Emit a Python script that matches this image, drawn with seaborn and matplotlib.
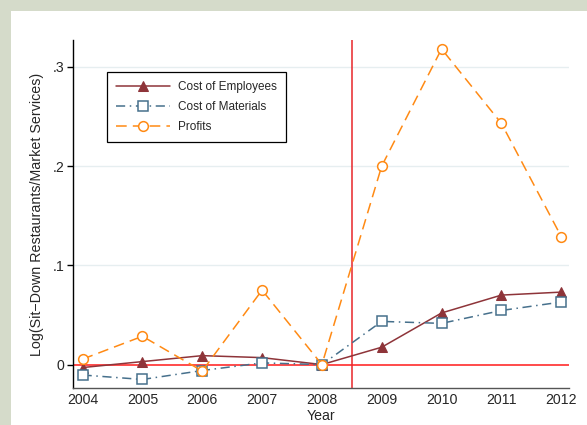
import numpy as np
import pandas as pd
import matplotlib
matplotlib.use("Agg")
import matplotlib.pyplot as plt
from matplotlib.patches import Rectangle
import seaborn as sns

years = [2004, 2005, 2006, 2007, 2008, 2009, 2010, 2011, 2012]
employees = [-0.003, 0.003, 0.009, 0.007, 0.0, 0.0175, 0.052, 0.070, 0.073]
materials = [-0.0105, -0.015, -0.006, 0.0017, 0.0, 0.0435, 0.0415, 0.0545, 0.063]
profits = [0.0055, 0.0285, -0.0065, 0.075, 0.0, 0.200, 0.318, 0.243, 0.129]

ytick_vals = [0, 0.1, 0.2, 0.3]
ytick_labels = ["0", ".1", ".2", ".3"]

sns.set_theme(style="white")
plt.rcParams["font.family"] = ["Liberation Sans", "DejaVu Sans"]

fig = plt.figure(figsize=(5.87, 4.25), dpi=100)
fig.patch.set_facecolor("#D5DBCA")
# white panel behind the plot
fig.add_artist(Rectangle((11 / 587, 0), 1, 1 - 11 / 425, transform=fig.transFigure,
                         facecolor="white", edgecolor="none", zorder=-5))

ax = fig.add_axes([73 / 587, 1 - 388 / 425, 496 / 587, 348 / 425])
ax.set_zorder(2)
ax.set_facecolor("white")

df = pd.DataFrame({"Year": years, "emp": employees, "mat": materials, "prof": profits})

# grid lines
for v in ytick_vals[1:]:
    ax.axhline(v, color="#E6EEF0", lw=1.0, zorder=0)

ax.axhline(0, color="#FF1A1A", lw=1.1, zorder=1)
ax.axvline(2008.5, color="#E8262A", lw=1.1, zorder=1)

sns.lineplot(data=df, x="Year", y="emp", ax=ax, color="#8E3439", lw=1.1,
             marker="^", markersize=7, markerfacecolor="#8E3439",
             markeredgecolor="#8E3439", label="Cost of Employees", zorder=3)
sns.lineplot(data=df, x="Year", y="mat", ax=ax, color="#46708C", lw=1.1,
             marker="s", markersize=6.5, markerfacecolor="white",
             markeredgecolor="#46708C", markeredgewidth=1.1,
             dashes=(6, 3, 1, 3), label="Cost of Materials", zorder=3)
sns.lineplot(data=df, x="Year", y="prof", ax=ax, color="#FF8A14", lw=1.1,
             marker="o", markersize=7, markerfacecolor="white",
             markeredgecolor="#FF8A14", markeredgewidth=1.1,
             dashes=(7, 4), label="Profits", zorder=3)

ax.set_xlim(2003.84, 2012.13)
ax.set_ylim(-0.0236, 0.327)
ax.set_xticks(years)
ax.set_xticklabels([str(y) for y in years], fontsize=10.2)
ax.set_yticks(ytick_vals)
ax.set_yticklabels(ytick_labels, fontsize=10.2)
ax.tick_params(axis="x", length=0, pad=3.5)
ax.tick_params(axis="y", length=4, width=1, color="black", pad=2, left=True)

for s in ["top", "right"]:
    ax.spines[s].set_visible(False)
ax.spines["left"].set_color("black")
ax.spines["left"].set_linewidth(1.0)
ax.spines["bottom"].set_color("#555555")
ax.spines["bottom"].set_linewidth(1.0)

ax.set_xlabel("Year", fontsize=10.2, labelpad=1.5)
ax.set_ylabel("Log(Sit\u2212Down Restaurants/Market Services)", fontsize=10.3, labelpad=6)

leg = ax.legend(loc="upper left", bbox_to_anchor=(0.0685, 0.908), borderaxespad=0,
                fontsize=8.5, handlelength=4.6, handletextpad=0.7, labelspacing=0.68,
                fancybox=False, framealpha=1, edgecolor="black", borderpad=0.75)
leg.get_frame().set_linewidth(0.9)

fig.savefig("out.png", dpi=100, facecolor=fig.get_facecolor())
